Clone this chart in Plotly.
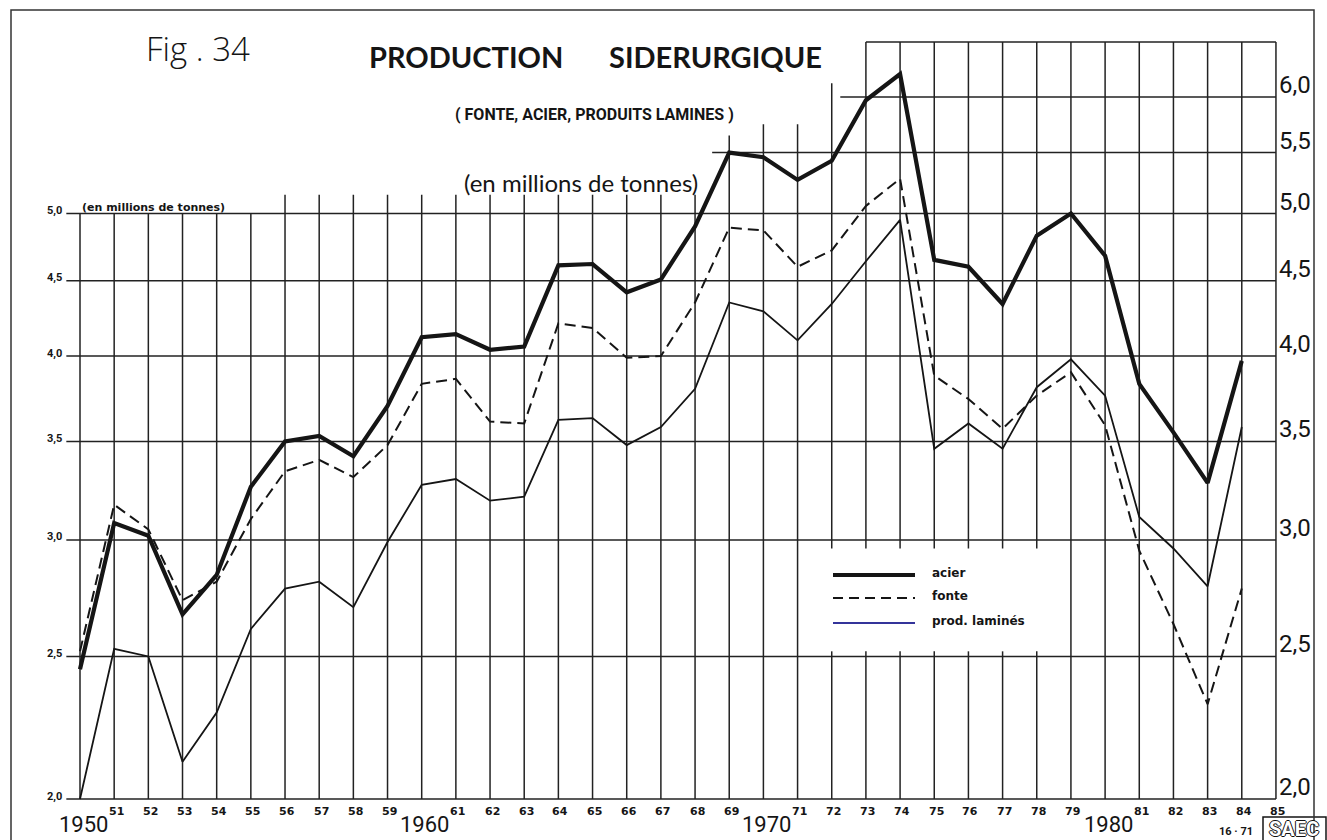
import math
import plotly.graph_objects as go

# ---- data (millions de tonnes) ----
years = list(range(1950, 1985))
acier = [2.45, 3.08, 3.02, 2.67, 2.84, 3.26, 3.50, 3.53, 3.42, 3.70,
         4.12, 4.14, 4.04, 4.06, 4.61, 4.62, 4.42, 4.51, 4.90, 5.50,
         5.46, 5.27, 5.43, 5.97, 6.22, 4.65, 4.60, 4.34, 4.83, 5.00,
         4.68, 3.83, 3.55, 3.28, 3.97]
fonte = [2.52, 3.17, 3.05, 2.73, 2.81, 3.10, 3.34, 3.40, 3.31, 3.48,
         3.83, 3.86, 3.61, 3.60, 4.21, 4.18, 3.99, 4.00, 4.35, 4.89,
         4.87, 4.60, 4.72, 5.06, 5.28, 3.88, 3.74, 3.57, 3.76, 3.90,
         3.59, 2.95, 2.63, 2.32, 2.78]
lamines = [2.00, 2.53, 2.50, 2.12, 2.29, 2.61, 2.78, 2.81, 2.70, 2.99,
           3.27, 3.30, 3.19, 3.21, 3.62, 3.63, 3.48, 3.58, 3.80, 4.35,
           4.29, 4.10, 4.34, 4.64, 4.95, 3.46, 3.60, 3.46, 3.81, 3.98,
           3.76, 3.11, 2.96, 2.79, 3.58]

series_names = ["acier", "fonte", "prod. laminés"]

# ---- ruled grid ----
grid_years = list(range(1950, 1986))
left_levels = [2.0, 2.5, 3.0, 3.5, 4.0, 4.5, 5.0]
right_levels = [2.0, 2.5, 3.0, 3.5, 4.0, 4.5, 5.0, 5.5, 6.0]
frame_top = 6.54
grid_left = 1949.6
level_start = {5.5: 1968.5, 6.0: 1972.25, frame_top: 1973.0}


def rule_top(yr):
    if yr <= 1955:
        return 5.0
    if yr <= 1968:
        return 5.15
    if yr == 1969:
        return 5.65
    if yr <= 1971:
        return 5.75
    if yr == 1972:
        return 6.13
    return frame_top


legend_gap_years = range(1972, 1979)
legend_gap = (2.52, 2.96)

gx, gy = [], []
for lvl in right_levels + [frame_top]:
    gx += [level_start.get(lvl, grid_left), 1985, None]
    gy += [lvl, lvl, None]
for yr in grid_years:
    if yr in legend_gap_years:
        gx += [yr, yr, None, yr, yr, None]
        gy += [2.0, legend_gap[0], None, legend_gap[1], rule_top(yr), None]
    else:
        gx += [yr, yr, None]
        gy += [2.0, rule_top(yr), None]

INK = "#151515"
fig = go.Figure()
fig.add_trace(go.Scatter(x=gx, y=gy, mode="lines", line=dict(color="#222222", width=1.5),
                         hoverinfo="skip", showlegend=False))

fig.add_trace(go.Scatter(x=years, y=lamines, mode="lines", name=series_names[2],
                         line=dict(color=INK, width=1.8)))
fig.add_trace(go.Scatter(x=years, y=fonte, mode="lines", name=series_names[1],
                         line=dict(color=INK, width=2.0, dash="11px,6px")))
fig.add_trace(go.Scatter(x=years, y=acier, mode="lines", name=series_names[0],
                         line=dict(color=INK, width=4.2)))

W, H = 1327, 840
PX_PER_YEAR = 34.17
X0 = 80.0
x_range = [1950 - X0 / PX_PER_YEAR, 1950 + (W - X0) / PX_PER_YEAR]
y_range = [0.27316, 0.84409]


def px(x):
    return x / W


def py(y):
    return 1 - y / H


ann = []
NARROW = "Roboto, Liberation Sans"


def label(v):
    return f"{v:.1f}".replace(".", ",")


# left scale
for v in left_levels:
    ann.append(dict(x=grid_left, y=math.log10(v), xref="x", yref="y", text=label(v),
                    xanchor="right", yanchor="middle", yshift=3, xshift=-2, showarrow=False,
                    font=dict(family=NARROW, size=11, color=INK, weight="bold")))
# right scale
for v in right_levels:
    ann.append(dict(x=1985, y=math.log10(v), xref="x", yref="y", text=label(v),
                    xanchor="left", yanchor="bottom", yshift=-4, xshift=1, showarrow=False,
                    font=dict(family=NARROW, size=24, color=INK)))

# year labels
for yr in grid_years:
    if yr % 10 == 0:
        ann.append(dict(x=yr, y=py(839), xref="x", yref="paper", text=str(yr),
                        xanchor="center", yanchor="bottom", xshift=3, showarrow=False,
                        font=dict(family=NARROW, size=22, color=INK)))
    else:
        ann.append(dict(x=yr, y=py(811), xref="x", yref="paper", text=f"{yr % 100:02d}",
                        xanchor="center", yanchor="middle", xshift=2, showarrow=False,
                        font=dict(family="DejaVu Sans", size=11, color=INK, weight="bold")))

# titles
ann += [
    dict(x=px(466), y=py(57), text="PRODUCTION", font=dict(family="Lato", size=29, color=INK, weight="bold")),
    dict(x=px(715), y=py(57), text="SIDERURGIQUE", font=dict(family="Lato", size=29, color=INK, weight="bold")),
    dict(x=px(594), y=py(115), text="( FONTE, ACIER, PRODUITS LAMINES )",
         font=dict(family=NARROW, size=16, color=INK, weight="bold")),
    dict(x=px(581), y=py(182), text="(en millions de tonnes)", font=dict(family="Lato", size=24, color=INK)),
    dict(x=px(198), y=py(48), text="Fig . 34", font=dict(family="Open Sans", size=33, color=INK, weight=300)),
    dict(x=px(153), y=py(207), text="(en millions de tonnes)",
         font=dict(family="DejaVu Sans", size=11, color=INK, weight="bold")),
    dict(x=px(1236), y=py(831), text="16 · 71", font=dict(family=NARROW, size=11, color=INK, weight="bold")),
    dict(x=px(1294), y=py(829), text="SAEC",
         font=dict(family=NARROW, size=20, color="white", weight="bold",
                   shadow="1px 0 0 #111, -1px 0 0 #111, 0 1px 0 #111, 0 -1px 0 #111")),
]
for a in ann:
    a.setdefault("xref", "paper")
    a.setdefault("yref", "paper")
    a.setdefault("showarrow", False)
    a.setdefault("xanchor", "center")
    a.setdefault("yanchor", "middle")

# legend block
legend_rows = [(575, dict(color=INK, width=4)),
               (598, dict(color=INK, width=2, dash="10px,6px")),
               (623, dict(color="#34349a", width=2))]
shapes = []
for name, (yy, ln) in zip(series_names, legend_rows):
    shapes.append(dict(type="line", xref="paper", yref="paper", x0=px(833), x1=px(915),
                       y0=py(yy), y1=py(yy), line=ln))
    ann.append(dict(x=px(930), y=py(yy - 2), xref="paper", yref="paper", text=name,
                    xanchor="left", yanchor="middle", showarrow=False,
                    font=dict(family="DejaVu Sans", size=12, color=INK, weight="bold")))

# outer frame and logo box
shapes.append(dict(type="rect", xref="paper", yref="paper", x0=px(11), x1=px(1314),
                   y0=py(880), y1=py(10), line=dict(color="#333333", width=1.5)))
shapes.append(dict(type="rect", xref="paper", yref="paper", x0=px(1263), x1=px(1326),
                   y0=py(842), y1=py(817), line=dict(color=INK, width=1.5), fillcolor="white",
                   layer="below"))

fig.update_layout(
    width=W, height=H,
    margin=dict(l=0, r=0, t=0, b=0),
    paper_bgcolor="white", plot_bgcolor="white",
    showlegend=False, hovermode=False,
    xaxis=dict(range=x_range, visible=False, fixedrange=True),
    yaxis=dict(type="log", range=y_range, visible=False, fixedrange=True),
    annotations=ann, shapes=shapes,
)

fig.write_html("out.html")
